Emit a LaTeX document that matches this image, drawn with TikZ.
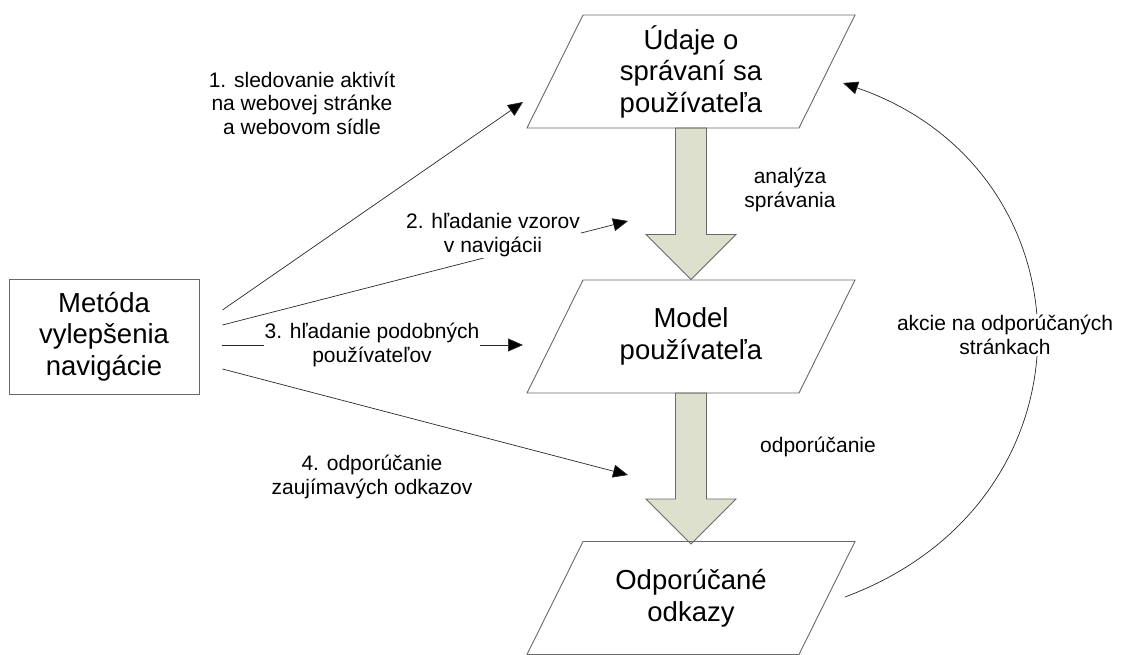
\documentclass[tikz,border=0pt]{standalone}
\usepackage{fontspec}
\setmainfont{Liberation Sans}
\usetikzlibrary{arrows.meta}
\definecolor{arrowfill}{RGB}{221,224,204}
\definecolor{edgegray}{RGB}{105,105,105}
\definecolor{linegray}{RGB}{40,40,40}
% slanted data block drawn around a named text node
\newcommand\slantbox[1]{%
  \draw[datashape] ([shift={(-108,-56.5)}]#1.center) -- ([shift={(164,-56.5)}]#1.center)
    -- ([shift={(108,56.5)}]#1.center) -- ([shift={(-164,56.5)}]#1.center) -- cycle;}
% wide block arrow from coordinate #1 down to tip coordinate #2
\newcommand\blockarrow[2]{%
  \draw[flowarrow] ([shift={(-15.5,0)}]#1) -- ([shift={(-15.5,-45)}]#2) -- ([shift={(-45,-45)}]#2)
    -- (#2) -- ([shift={(45,-45)}]#2) -- ([shift={(15.5,-45)}]#2) -- ([shift={(15.5,0)}]#1) -- cycle;}
\begin{document}
\begin{tikzpicture}[x=1pt,y=-1pt,
  bigtext/.style={font=\fontsize{27.5}{31.5}\selectfont, align=center, inner sep=0pt},
  smalltext/.style={font=\fontsize{21}{23.5}\selectfont, align=center, inner sep=0pt},
  gaplabel/.style={smalltext, fill=white, inner sep=1pt},
  datashape/.style={draw=edgegray, line width=0.9pt, line join=miter},
  flowarrow/.style={draw=edgegray, fill=arrowfill, line width=0.9pt, line join=miter},
  link/.style={draw=linegray, line width=0.7pt, -{Triangle[length=15pt,width=13pt,fill=black]}},
]
\useasboundingbox (0,0) rectangle (1133,655);

% data blocks
\node[bigtext] (data) at (691,71.5) {Údaje o\\správaní sa\\používateľa};
\node[bigtext] (model) at (691,336.5) {Model\\používateľa};
\node[bigtext] (links) at (691,598) {Odporúčané\\odkazy};

% method box
\node[bigtext, draw=edgegray, line width=0.9pt, minimum width=190pt, minimum height=115pt]
  (method) at (104,336.5) {Metóda\\vylepšenia\\navigácie};

% block arrows between the data blocks
\coordinate (a1s) at (691,128);
\coordinate (a1t) at (691,279.5);
\coordinate (a2s) at (691,393);
\coordinate (a2t) at (691,544);
\blockarrow{a1s}{a1t}
\blockarrow{a2s}{a2t}
\slantbox{data}
\slantbox{model}
\slantbox{links}

\node[smalltext] (analysis) at (790,190) {analýza\\správania};
\node[smalltext] (recommend) at (818,447) {odporúčanie};

% connectors from the method box
\coordinate (m1) at ([shift={(23,-26.5)}]method.east);
\coordinate (m2) at ([shift={(23,-11.5)}]method.east);
\coordinate (m3) at ([shift={(23,8.5)}]method.east);
\coordinate (m4) at ([shift={(23,32.5)}]method.east);
\coordinate (t1) at (523,102);
\coordinate (t2) at (628,221);
\coordinate (t3) at (523,345);
\coordinate (t4) at (628,475);

\draw[link] (m1) -- (t1);
\draw[link] (m2) -- (t2);
\draw[link] (m3) -- (t3);
\draw[link] (m4) -- (t4);

\node[smalltext] (step1) at (302,103) {1. sledovanie aktivít\\na webovej stránke\\a webovom sídle};
\node[gaplabel] (step2) at (493,235) {2. hľadanie vzorov\\v navigácii};
\node[gaplabel] (step3) at (372,345) {3. hľadanie podobných\\používateľov};
\node[smalltext] (step4) at (372,477) {4. odporúčanie\\zaujímavých odkazov};

% feedback loop
\coordinate (f0) at (845,597);
\coordinate (f1) at (843,83);
\draw[link] (f0) .. controls (1105,500) and (1095,170) .. (f1);
\node[gaplabel] (feedback) at (1005,335) {akcie na odporúčaných\\stránkach};
\end{tikzpicture}
\end{document}
